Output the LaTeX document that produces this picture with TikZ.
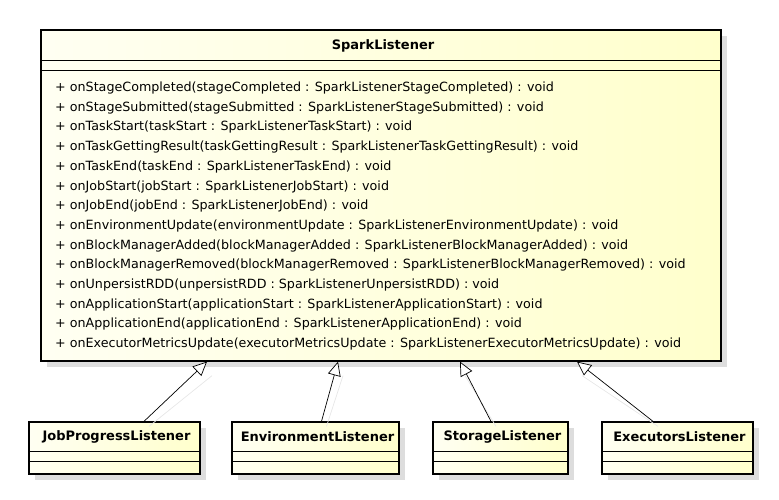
\documentclass[tikz,border=0pt]{standalone}
\usepackage{fontspec}
\setmainfont{DejaVu Sans}
\usepackage{xcolor}
\definecolor{umlfill}{RGB}{255, 255, 204}
\definecolor{umlshadow}{RGB}{221, 221, 221}
\usepackage{tikz}
\usetikzlibrary{positioning, arrows.meta, calc}

\begin{document}
\begin{tikzpicture}[x=1pt, y=-1pt, >=Stealth,
    classbox/.style={draw, line width=1.3pt, rectangle, inner sep=0pt,
        left color=umlfill!25, right color=umlfill},
    shadowbox/.style={fill=umlshadow, draw=none},
    classname/.style={font=\fontsize{13}{15}\selectfont\bfseries, anchor=center},
    method/.style={font=\fontsize{12.7}{14}\selectfont, anchor=west, inner sep=0pt},
    inherit/.style={-{Triangle[length=14pt, width=13pt, fill=white]}, line width=0.7pt},
    inheritshadow/.style={line width=0.7pt, draw=umlshadow!70}]

    \useasboundingbox (0,0) rectangle (779,500);

    % SparkListener
    \fill[shadowbox] (47,36) rectangle (727,367);
    \node[classbox, minimum width=680pt, minimum height=331pt] (spark) at (381,195.5) {};
    \draw[line width=0.7pt] (41,60) -- (721,60);
    \draw[line width=0.7pt] (41,70) -- (721,70);
    \node[classname] (sparkname) at (383,46) {SparkListener};

    \foreach \i/\m in {0/{onStageCompleted(stageCompleted : SparkListenerStageCompleted) : void},
        1/{onStageSubmitted(stageSubmitted : SparkListenerStageSubmitted) : void},
        2/{onTaskStart(taskStart : SparkListenerTaskStart) : void},
        3/{onTaskGettingResult(taskGettingResult : SparkListenerTaskGettingResult) : void},
        4/{onTaskEnd(taskEnd : SparkListenerTaskEnd) : void},
        5/{onJobStart(jobStart : SparkListenerJobStart) : void},
        6/{onJobEnd(jobEnd : SparkListenerJobEnd) : void},
        7/{onEnvironmentUpdate(environmentUpdate : SparkListenerEnvironmentUpdate) : void},
        8/{onBlockManagerAdded(blockManagerAdded : SparkListenerBlockManagerAdded) : void},
        9/{onBlockManagerRemoved(blockManagerRemoved : SparkListenerBlockManagerRemoved) : void},
        10/{onUnpersistRDD(unpersistRDD : SparkListenerUnpersistRDD) : void},
        11/{onApplicationStart(applicationStart : SparkListenerApplicationStart) : void},
        12/{onApplicationEnd(applicationEnd : SparkListenerApplicationEnd) : void},
        13/{onExecutorMetricsUpdate(executorMetricsUpdate : SparkListenerExecutorMetricsUpdate) : void}} {
        \node[method] (m\i) at (55,88+19.7*\i) {+ \m};
    }

    % Listener classes
    \foreach \name/\lab/\l/\r in {job/JobProgressListener/29/200,
        env/EnvironmentListener/232/399,
        storage/StorageListener/433/568,
        exec/ExecutorsListener/602/753} {
        \fill[shadowbox] (\l+6,428) rectangle (\r+6,480);
        \node[classbox, minimum width=\r pt-\l pt, minimum height=52pt] (\name) at ({(\l+\r)/2},448) {};
        \draw[line width=0.7pt] (\l,451) -- (\r,451);
        \draw[line width=0.7pt] (\l,461) -- (\r,461);
        \node[classname] (\name-name) at ({(\l+\r)/2+2},437) {\lab};
    }

    % Generalization arrows
    \foreach \name/\s/\t in {job/29.5/-174, env/6/-43, storage/-9.5/79, exec/-24.5/196} {
        \draw[inheritshadow] ([xshift=\s pt+5pt, yshift=-5pt]\name.north) -- ([xshift=\t pt+5pt, yshift=-14pt]spark.south);
        \draw[inherit] ([xshift=\s pt]\name.north) -- ([xshift=\t pt]spark.south);
    }
\end{tikzpicture}
\end{document}
